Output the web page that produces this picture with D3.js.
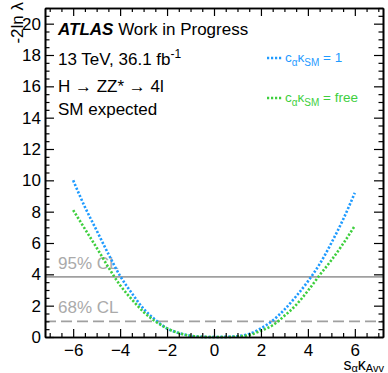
<!DOCTYPE html>
<html>
<head>
<meta charset="utf-8">
<script src="https://cdn.jsdelivr.net/npm/d3@7"></script>
<style>
  body { margin: 0; background: #fff; }
  svg { display: block; font-family: "Liberation Sans", Arial, sans-serif; }
</style>
</head>
<body>
<svg id="chart" width="388" height="373"></svg>
<script>
// scan points along s_alpha kappa_Avv
const xPoints = [-6, -5.5, -5, -4.5, -4, -3.5, -3, -2.5, -2, -1.5, -1, -0.5, 0, 0.5, 1, 1.5, 2, 2.5, 3, 3.5, 4, 4.5, 5, 5.5, 6];
// c_alpha kappa_SM = 1
const nllFixed = [10.0, 8.3, 6.8, 5.3, 3.9, 2.8, 1.8, 1.1, 0.55, 0.25, 0.08, 0.01, 0, 0.01, 0.05, 0.2, 0.55, 1.05, 1.75, 2.6, 3.55, 4.65, 6.0, 7.5, 9.2];
// c_alpha kappa_SM = free
const nllFree = [8.1, 6.9, 5.7, 4.45, 3.3, 2.4, 1.6, 1.0, 0.55, 0.25, 0.08, 0.01, 0, 0, 0.03, 0.12, 0.4, 0.75, 1.35, 2.05, 2.95, 3.95, 4.9, 5.95, 7.1];
const clLevels = [3.84, 1.0];
const clLabels = ['95% CL', '68% CL'];
const xTicks = [-6, -4, -2, 0, 2, 4, 6];
const yTicks = [0, 2, 4, 6, 8, 10, 12, 14, 16, 18, 20];

const margin = {left: 45, top: 8, right: 5, bottom: 36};
const svg = d3.select('#chart');
const W = +svg.attr('width'), H = +svg.attr('height');
const w = W - margin.left - margin.right;
const h = H - margin.top - margin.bottom;

const x = d3.scaleLinear().domain([-7.2, 7.2]).range([0, w]);
const y = d3.scaleLinear().domain([0, 21]).range([h, 0]);

const g = svg.append('g').attr('transform', `translate(${margin.left},${margin.top})`);

const blue = '#1f9bff';
const green = '#3ecf3e';
const grey = '#a0a0a0';

// CL lines
g.append('line')
  .attr('x1', 0).attr('x2', w)
  .attr('y1', y(clLevels[0])).attr('y2', y(clLevels[0]))
  .attr('stroke', grey).attr('stroke-width', 1.6);
g.append('line')
  .attr('x1', 0).attr('x2', w)
  .attr('y1', y(clLevels[1])).attr('y2', y(clLevels[1]))
  .attr('stroke', grey).attr('stroke-width', 1.6)
  .attr('stroke-dasharray', '11,5');
clLabels.forEach((t, i) => {
  g.append('text')
    .attr('x', 13).attr('y', y(clLevels[i]) - 8)
    .attr('font-size', 17).attr('fill', '#aaaaaa')
    .text(t);
});

// curves
const line = d3.line()
  .x((d, i) => x(xPoints[i]))
  .y(d => y(d))
  .curve(d3.curveMonotoneX);

[[nllFixed, blue], [nllFree, green]].forEach(([vals, col]) => {
  g.append('path')
    .datum(vals)
    .attr('d', line)
    .attr('fill', 'none')
    .attr('stroke', col)
    .attr('stroke-width', 2.6)
    .attr('stroke-dasharray', '2.2,1.8');
});

// axes, ROOT style ticks pointing inward
const minorX = d3.range(-7, 7.01, 0.5).filter(v => Math.abs(v % 2) > 1e-6);
const minorY = d3.range(0, 21.01, 0.5).filter(v => Math.abs(v % 2) > 1e-6);

function tickAxis(axisFn, scale, values, size, labels) {
  return axisFn(scale).tickValues(values).tickSizeInner(size).tickSizeOuter(0)
    .tickFormat(labels ? (d => d < 0 ? '\u2212' + Math.abs(d) : d) : '');
}

const axes = [
  [d3.axisBottom, x, `translate(0,${h})`, xTicks, minorX, -8, true],
  [d3.axisTop, x, 'translate(0,0)', xTicks, minorX, -8, false],
  [d3.axisLeft, y, 'translate(0,0)', yTicks, minorY, -9, true],
  [d3.axisRight, y, `translate(${w},0)`, yTicks, minorY, -9, false]
];
axes.forEach(([fn, sc, tr, major, minor, len, labels]) => {
  const ga = g.append('g').attr('transform', tr);
  ga.call(tickAxis(fn, sc, minor, len / 2, false));
  ga.append('g').call(tickAxis(fn, sc, major, len, labels));
  ga.selectAll('line').attr('stroke', '#000').attr('stroke-width', 1.2);
  ga.selectAll('.domain').attr('stroke', '#000').attr('stroke-width', 1.6);
  ga.selectAll('text').attr('font-size', 17).attr('fill', '#000')
    .attr('font-family', '"Liberation Sans", Arial, sans-serif');
});
g.selectAll('.tick text').each(function () {
  const t = d3.select(this);
  if (t.attr('dy') === '0.71em') t.attr('y', 7); // bottom labels
});
g.selectAll('.tick text').filter(function () { return d3.select(this).attr('x') !== null && +d3.select(this).attr('x') < 0; })
  .attr('x', -4);

// ATLAS label
const lx = 13;
const t1 = g.append('text').attr('x', lx).attr('y', 27).attr('font-size', 17);
t1.append('tspan').attr('font-weight', 'bold').attr('font-style', 'italic').text('ATLAS');
t1.append('tspan').text(' Work in Progress');
const t2 = g.append('text').attr('x', lx).attr('y', 57).attr('font-size', 17).text('13 TeV, 36.1 fb');
t2.append('tspan').attr('font-size', 12).attr('dy', -7).text('-1');
g.append('text').attr('x', lx).attr('y', 84).attr('font-size', 17).text('H \u2192 ZZ* \u2192 4l');
g.append('text').attr('x', lx).attr('y', 107).attr('font-size', 17).text('SM expected');

// legend
const legend = [[blue, '= 1', 62], [green, '= free', 102]];
legend.forEach(([col, tail, ly]) => {
  g.append('line')
    .attr('x1', 222).attr('x2', 238)
    .attr('y1', ly - margin.top - 4).attr('y2', ly - margin.top - 4)
    .attr('stroke', col).attr('stroke-width', 2.6).attr('stroke-dasharray', '2.2,1.8');
  const t = g.append('text').attr('x', 240).attr('y', ly - margin.top).attr('font-size', 13.5).attr('fill', col);
  t.append('tspan').text('c');
  t.append('tspan').attr('font-size', 10).attr('dy', 4).text('\u03b1');
  t.append('tspan').attr('dy', -4).text('\u03ba');
  t.append('tspan').attr('font-size', 10).attr('dy', 4).text('SM');
  t.append('tspan').attr('dy', -4).text(' ' + tail);
});

// axis titles
const xt = svg.append('text').attr('x', W - 4).attr('y', H - 3).attr('text-anchor', 'end').attr('font-size', 16);
xt.append('tspan').text('s');
xt.append('tspan').attr('font-size', 11).attr('dy', 2).text('\u03b1');
xt.append('tspan').attr('dy', -2).text('\u03ba');
xt.append('tspan').attr('font-size', 11).attr('dy', 2).text('Avv');

svg.append('text')
  .attr('transform', 'translate(23,2) rotate(-90)')
  .attr('text-anchor', 'end').attr('font-size', 17)
  .text('-2ln \u03bb');
</script>
</body>
</html>
